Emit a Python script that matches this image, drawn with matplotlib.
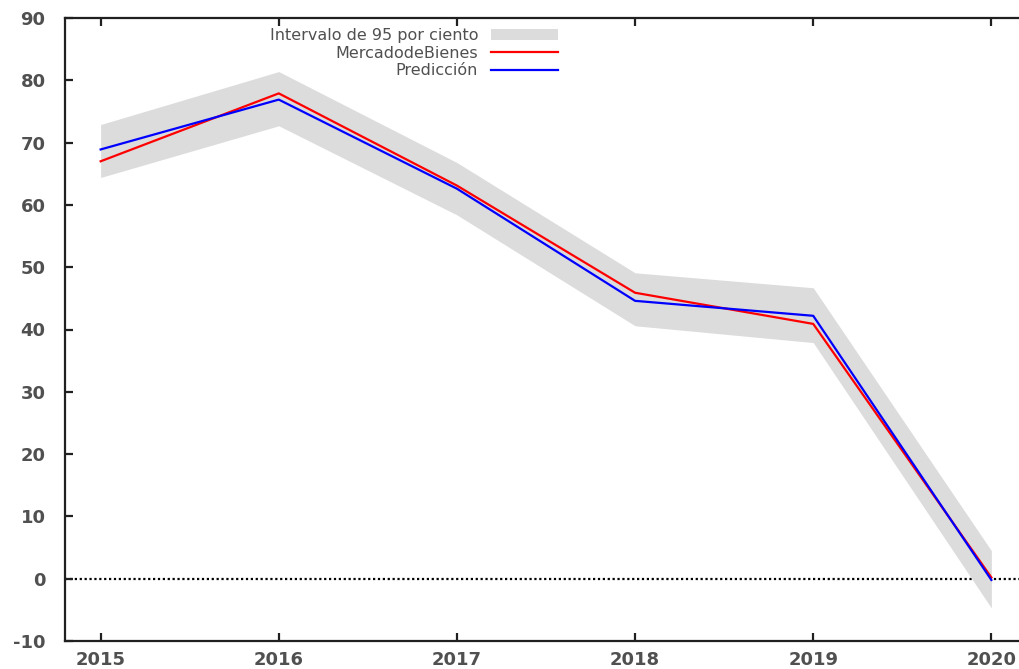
import matplotlib
matplotlib.use("Agg")
import matplotlib.pyplot as plt

# forecast series
years = [2015, 2016, 2017, 2018, 2019, 2020]
mercado = [67.0, 77.9, 63.1, 45.9, 40.9, 0.2]
prediccion = [68.9, 76.9, 62.6, 44.6, 42.2, -0.2]
ci_low = [64.4, 72.7, 58.4, 40.6, 37.9, -4.7]
ci_high = [72.9, 81.4, 66.8, 49.1, 46.7, 4.5]

TEXT_COLOR = "#505050"

fig = plt.figure(figsize=(10.19, 6.69), dpi=100)
ax = fig.add_axes([65 / 1019, 28 / 669, 962 / 1019, 623 / 669])

ax.axhline(0, color="black", linestyle=(0, (1, 1.2)), linewidth=1.6, zorder=1)
ax.fill_between(years, ci_low, ci_high, color="#dcdcdc", linewidth=0,
                label="Intervalo de 95 por ciento", zorder=2)
ax.plot(years, mercado, color="#ff0000", linewidth=1.6, label="MercadodeBienes", zorder=3)
ax.plot(years, prediccion, color="#0000ff", linewidth=1.6, label="Predicción", zorder=4)

ax.set_xlim(2014.8, 2020.2)
ax.set_ylim(-10, 90)
ax.set_xticks(years)
ax.set_yticks(range(-10, 91, 10))
ax.set_yticklabels([str(v) for v in range(-10, 91, 10)])

for side in ["left", "bottom", "top", "right"]:
    ax.spines[side].set_linewidth(1.6)
    ax.spines[side].set_color("#202020")

ax.tick_params(axis="both", direction="in", length=6, width=1.6, color="#202020",
               labelcolor=TEXT_COLOR, labelsize=13)
ax.tick_params(axis="x", top=True, pad=7)
ax.tick_params(axis="y", pad=14)
for lbl in ax.get_xticklabels() + ax.get_yticklabels():
    lbl.set_fontweight("bold")

leg = ax.legend(loc="upper right", bbox_to_anchor=(566 / 1019, 1 - 20 / 669),
                bbox_transform=fig.transFigure, frameon=False, markerfirst=False,
                fontsize=11.5, handlelength=4.2, handletextpad=0.8, labelspacing=0.16,
                borderpad=0)
for t in leg.get_texts():
    t.set_color(TEXT_COLOR)

fig.savefig("out.png", dpi=100)
